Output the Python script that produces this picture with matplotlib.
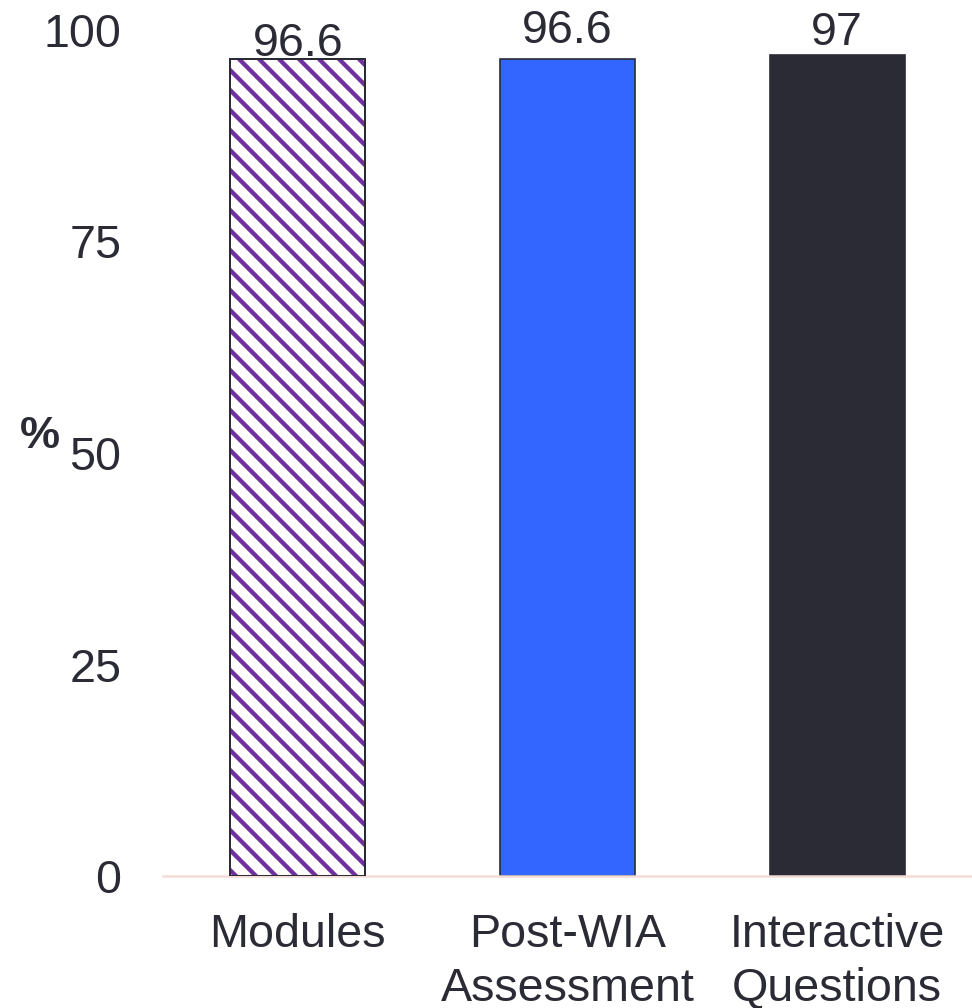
import matplotlib.pyplot as plt

plt.rcParams['font.family'] = ['Liberation Sans', 'DejaVu Sans']
plt.rcParams['hatch.linewidth'] = 2.6

categories = ['Modules', 'Post-WIA\nAssessment', 'Interactive\nQuestions']
values = [96.6, 96.6, 97]
label_texts = ['96.6', '96.6', '97']
label_lift = [0.3, 1.9, 1.2]
yticks = [0, 25, 50, 75, 100]

TEXT = '#2b2b35'
PURPLE = '#7030a0'
BLUE = '#3366ff'
DARK = '#2b2b35'

fig = plt.figure(figsize=(8.1, 8.4), dpi=120)
ax = fig.add_axes([163 / 972, 132 / 1008, 1 - 163 / 972, (876 - 30) / 1008])

x = range(len(categories))
bars = ax.bar(x, values, width=0.5, color=['white', BLUE, DARK],
              edgecolor=DARK, linewidth=1.0, zorder=2)
bars[0].set_hatch('\\\\')
bars[0].set_edgecolor(PURPLE)
# outline drawn separately so the hatch stays purple
ax.bar([0], [values[0]], width=0.5, fill=False, edgecolor=DARK,
       linewidth=1.2, zorder=3)

for i, (v, t) in enumerate(zip(values, label_texts)):
    ax.text(i, v + label_lift[i], t, ha='center', va='baseline',
            fontsize=28, color=TEXT)

ax.set_xlim(-0.5, 2.5)
ax.set_ylim(0, 100)
ax.set_yticks(yticks)
ax.set_yticklabels([str(t) for t in yticks])
ax.set_xticks(list(x))
ax.set_xticklabels(categories, linespacing=1.3)
ax.tick_params(axis='y', length=0, pad=25, labelsize=28, labelcolor=TEXT)
ax.tick_params(axis='x', length=0, pad=22, labelsize=28, labelcolor=TEXT)

for s in ['top', 'right', 'left']:
    ax.spines[s].set_visible(False)
ax.spines['bottom'].set_color('#f4dcd6')
ax.spines['bottom'].set_linewidth(1.5)

fig.text(40 / 972, 1 - 436 / 1008, '%', fontsize=27, fontweight='bold',
         color=TEXT, ha='center', va='center')

fig.savefig('out.png', dpi=120)
